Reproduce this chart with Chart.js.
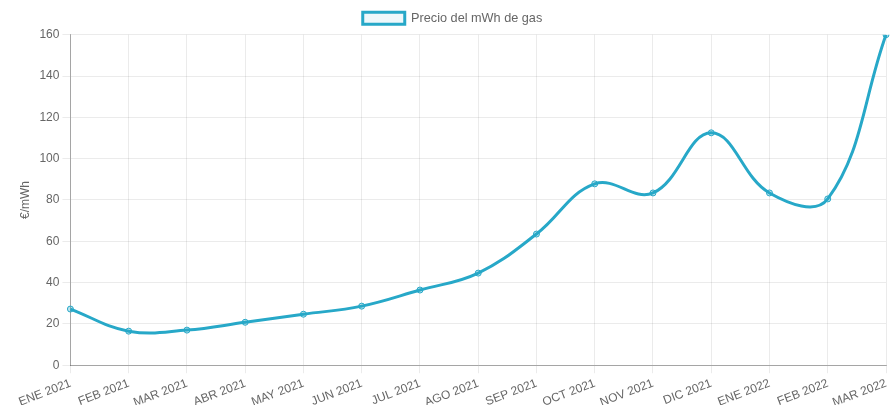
<!DOCTYPE html>
<html>
<head>
<meta charset="utf-8">
<script src="https://cdn.jsdelivr.net/npm/chart.js@4/dist/chart.umd.min.js"></script>
<style>
  html, body { margin: 0; padding: 0; background: #fff; }
  #wrap { width: 891px; height: 405px; }
</style>
</head>
<body>
<div id="wrap"><canvas id="gasChart"></canvas></div>
<script>
const meses = ['ENE 2021', 'FEB 2021', 'MAR 2021', 'ABR 2021', 'MAY 2021', 'JUN 2021', 'JUL 2021',
    'AGO 2021', 'SEP 2021', 'OCT 2021', 'NOV 2021', 'DIC 2021', 'ENE 2022', 'FEB 2022', 'MAR 2022'];
const precioGas = [27.2, 16.5, 17, 20.8, 24.7, 28.6, 36.4, 44.6, 63.5, 87.8, 83.4, 112.5, 83.4, 80.5, 160];

Chart.defaults.font.family = '"Liberation Sans", Arial, sans-serif';
Chart.defaults.font.size = 12;
Chart.defaults.color = '#666';

const ctx = document.getElementById('gasChart').getContext('2d');
const gasChart = new Chart(ctx, {
    type: 'line',
    data: {
        labels: meses,
        datasets: [{
            label: 'Precio del mWh de gas',
            data: precioGas,
            borderColor: '#27a8c8',
            backgroundColor: 'rgba(39, 168, 200, 0.08)',
            borderWidth: 3,
            pointRadius: 3,
            pointBorderWidth: 1,
            pointBackgroundColor: 'rgba(39, 168, 200, 0.3)',
            tension: 0.4,
            fill: false
        }]
    },
    options: {
        responsive: true,
        maintainAspectRatio: false,
        animation: false,
        layout: { padding: { left: 14, right: 0, top: 2, bottom: -8 } },
        plugins: {
            legend: {
                labels: { boxWidth: 42, boxHeight: 12, color: '#666', font: { size: 12.7 } }
            }
        },
        scales: {
            x: {
                ticks: { minRotation: 21, maxRotation: 21, color: '#666' },
                grid: { color: 'rgba(0,0,0,0.08)', tickLength: 8 },
                border: { color: 'rgba(0,0,0,0.3)' },
                afterFit: (scale) => { scale.paddingRight = 0; }  // la ultima etiqueta no reserva margen
            },
            y: {
                min: 0,
                max: 160,
                ticks: { stepSize: 20, color: '#666' },
                title: { display: true, text: '€/mWh', color: '#666' },
                grid: { color: 'rgba(0,0,0,0.08)', tickLength: 8 },
                border: { color: 'rgba(0,0,0,0.3)' }
            }
        }
    }
});
</script>
</body>
</html>
